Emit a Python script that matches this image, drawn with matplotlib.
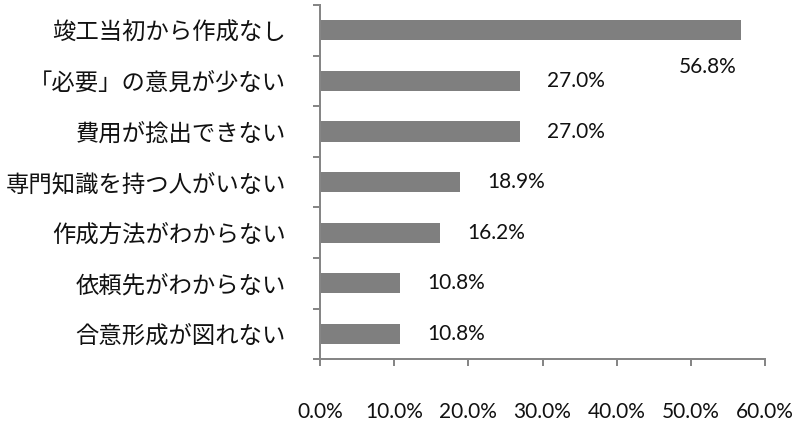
import matplotlib
matplotlib.use("Agg")
import matplotlib.pyplot as plt
import numpy as np

categories = ["竣工当初から作成なし", "「必要」の意見が少ない", "費用が捻出できない",
              "専門知識を持つ人がいない", "作成方法がわからない", "依頼先がわからない",
              "合意形成が図れない"]
values = [56.8, 27.0, 27.0, 18.9, 16.2, 10.8, 10.8]
xticks = [0, 10, 20, 30, 40, 50, 60]
xtick_labels = ["0.0%", "10.0%", "20.0%", "30.0%", "40.0%", "50.0%", "60.0%"]

axis_color = "#868686"
bar_color = "#7f7f7f"
px = 72 / 100  # points per pixel

fig = plt.figure(figsize=(8, 4.22), dpi=100)
ax = fig.add_axes([0.4, 0.149, 0.55625, 0.839])

n = len(categories)
ypos = np.arange(n)[::-1]
ax.barh(ypos, values, height=0.4, color=bar_color)

ax.set_xlim(0, 60)
ax.set_ylim(-0.5, n - 0.5)

for s in ["top", "right"]:
    ax.spines[s].set_visible(False)
for s in ["left", "bottom"]:
    ax.spines[s].set_color(axis_color)
    ax.spines[s].set_linewidth(2 * px)

num_font = ["Lato", "DejaVu Sans"]
ax.set_xticks(xticks)
ax.set_xticklabels(xtick_labels, fontfamily=num_font, fontsize=15)
ax.tick_params(axis="x", direction="out", length=7 * px, width=2 * px,
               color=axis_color, pad=36 * px, labelcolor="#111111")

ax.set_yticks(ypos)
ax.set_yticklabels(categories, fontfamily=["Noto Sans CJK JP", "DejaVu Sans"],
                   fontsize=16.8)
ax.tick_params(axis="y", which="major", length=0, pad=34 * px, labelcolor="#111111")
ax.set_yticks(np.arange(-0.5, n, 1.0), minor=True)
ax.tick_params(axis="y", which="minor", direction="out", length=7 * px,
               width=2 * px, color=axis_color)

for i, (y, v) in enumerate(zip(ypos, values)):
    if i == 0:
        ax.annotate(f"{v:.1f}%", xy=(v, y), xytext=(-5 * px, -37 * px),
                    textcoords="offset points", ha="right", va="center",
                    fontfamily=num_font, fontsize=15, color="#111111")
    else:
        ax.annotate(f"{v:.1f}%", xy=(v, y), xytext=(27 * px, 0),
                    textcoords="offset points", ha="left", va="center",
                    fontfamily=num_font, fontsize=15, color="#111111")

fig.savefig("out.png", dpi=100)
